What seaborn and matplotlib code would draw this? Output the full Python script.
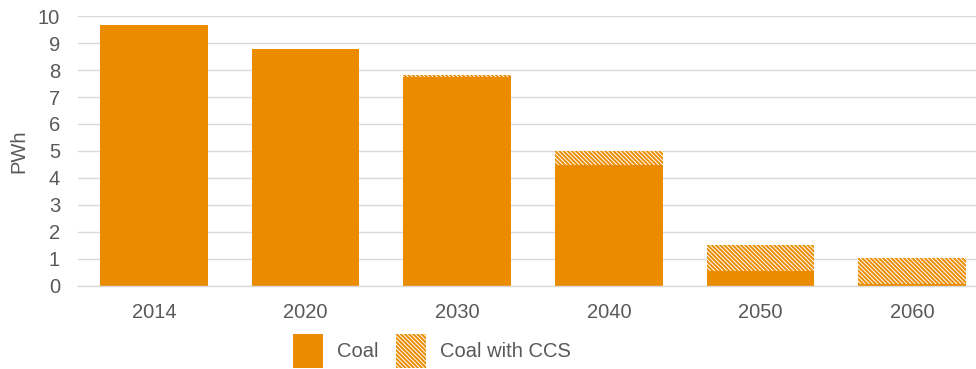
import matplotlib
matplotlib.use("Agg")
import matplotlib.pyplot as plt
from matplotlib.patches import Patch
import seaborn as sns
import pandas as pd

years = ["2014", "2020", "2030", "2040", "2050", "2060"]
coal = [9.67, 8.78, 7.74, 4.48, 0.56, 0.08]
coal_ccs = [0.0, 0.0, 0.08, 0.52, 0.96, 0.96]

ORANGE = "#EB8C00"
GRID = "#D9D9D9"
TEXT = "#595959"
HATCH = "\\" * 8

sns.set_theme(style="white")
plt.rcParams["font.family"] = ["Liberation Sans", "DejaVu Sans"]
plt.rcParams["hatch.linewidth"] = 1.4

df = pd.DataFrame({"year": years, "coal": coal, "ccs": coal_ccs})
df["total"] = df["coal"] + df["ccs"]

fig = plt.figure(figsize=(9.76, 3.69), dpi=100)
ax = fig.add_axes([0.08, 0.225, 0.92, 0.7316])

# Full stack height drawn hatched, solid coal drawn on top of it
sns.barplot(data=df, x="year", y="total", ax=ax, color="white", width=0.71,
            edgecolor=ORANGE, linewidth=0, hatch=HATCH, saturation=1)
sns.barplot(data=df, x="year", y="coal", ax=ax, color=ORANGE, width=0.71,
            linewidth=0, saturation=1)

ax.set_ylim(0, 10)
ax.set_xlim(-0.5, 5.42)
ax.set_yticks(range(0, 11))
ax.yaxis.grid(True, color=GRID, linewidth=1)
ax.set_axisbelow(True)
for s in ["left", "right", "top"]:
    ax.spines[s].set_visible(False)
ax.spines["bottom"].set_color(GRID)
ax.spines["bottom"].set_linewidth(1)

ax.set_xlabel("")
ax.set_ylabel("PWh", fontsize=14.5, color=TEXT, labelpad=7)
ax.tick_params(axis="both", length=0, labelsize=14.5, colors=TEXT)
ax.tick_params(axis="x", pad=12)
ax.tick_params(axis="y", pad=13)

handles = [
    Patch(facecolor=ORANGE, edgecolor=ORANGE, linewidth=0, label="Coal"),
    Patch(facecolor="white", edgecolor=ORANGE, linewidth=0, hatch=HATCH, label="Coal with CCS"),
]
leg = fig.legend(handles=handles, loc="center", ncol=2,
                 bbox_to_anchor=(432 / 976, 1 - 351 / 369),
                 frameon=False, fontsize=14.5, handlelength=1.5, handleheight=2.15,
                 columnspacing=0.85, handletextpad=0.7, labelcolor=TEXT)

fig.savefig("out.png", dpi=100)
